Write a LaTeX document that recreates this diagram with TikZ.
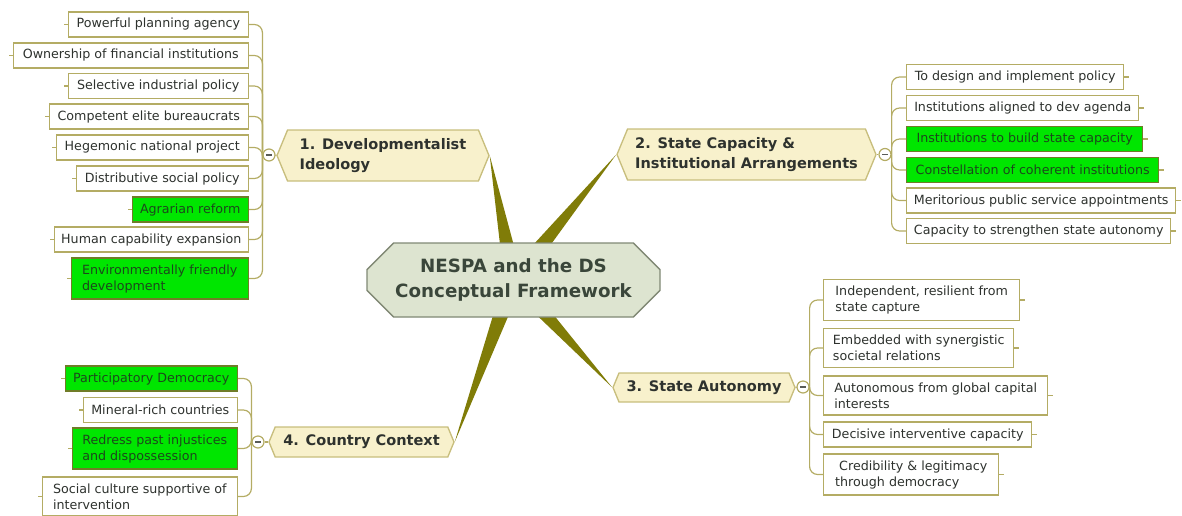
\documentclass[tikz,border=0pt]{standalone}
\usepackage{fontspec}
\setmainfont{DejaVu Sans}
\usetikzlibrary{shapes.misc,shapes.symbols,calc,backgrounds}

\definecolor{olivebar}{RGB}{128,124,8}
\definecolor{twigline}{RGB}{180,172,100}
\definecolor{topicfill}{RGB}{248,241,204}
\definecolor{topicline}{RGB}{200,190,125}
\definecolor{hubfill}{RGB}{221,228,208}
\definecolor{hubline}{RGB}{128,136,116}
\definecolor{hubink}{RGB}{58,70,58}
\definecolor{leafgreen}{RGB}{0,230,0}
\definecolor{leafedge}{RGB}{112,124,40}
\definecolor{darkleaf}{RGB}{28,72,28}
\definecolor{inkgrey}{RGB}{46,50,46}

\tikzset{every picture/.style={line width=0.75pt}}
\tikzset{
  hub/.style={chamfered rectangle, chamfered rectangle xsep=11pt, chamfered rectangle ysep=9pt,
    draw=hubline, fill=hubfill, line width=1pt, text=hubink, align=center,
    font=\fontsize{13.7}{18.75}\bfseries\selectfont, minimum width=219.75pt, minimum height=55.5pt, inner sep=2pt},
  topic/.style={signal, signal to=west and east, signal pointer angle=135,
    draw=topicline, fill=topicfill, line width=1pt, text=inkgrey, align=left,
    font=\fontsize{10.9}{15}\bfseries\selectfont, inner sep=2pt},
  leaf/.style={draw=twigline, fill=white, line width=1.1pt, text=inkgrey, align=left,
    font=\fontsize{9.5}{12}\selectfont, inner xsep=4.5pt, inner ysep=4.8pt, minimum height=19pt},
  ripe/.style={leaf, draw=leafedge, fill=leafgreen, text=darkleaf},
  knob/.style={circle, draw=twigline, fill=white, line width=0.9pt, minimum size=9pt, inner sep=0pt,
    path picture={\draw[line width=1pt, inkgrey!80] ([xshift=-2pt]path picture bounding box.center) -- ([xshift=2pt]path picture bounding box.center);}},
  twig/.style={draw=twigline, line width=0.9pt, rounded corners=6pt},
  tick/.style={draw=twigline, line width=0.9pt},
  spoke/.style={fill=olivebar}
}

\begin{document}
\begin{tikzpicture}[x=0.75pt,y=0.75pt,yscale=-1,xscale=1]
\useasboundingbox (0,0) rectangle (1182,515);

%Shape: Chamfered Rectangle [id:hub]
\node[hub] (ctr) at (513.5,280) {NESPA and the DS\\Conceptual Framework};

%Shape: Hexagon [id:topics]
\node[topic, minimum width=159pt, minimum height=38.25pt] (t1) at (383,155.5) {1. Developmentalist\\Ideology};
\node[topic, minimum width=194.25pt, minimum height=38.25pt] (t2) at (746.5,154.5) {2. State Capacity \&\\Institutional Arrangements};
\node[topic, minimum width=136.5pt, minimum height=21.75pt] (t3) at (704,387.5) {3. State Autonomy};
\node[topic, minimum width=138.75pt, minimum height=22.5pt] (t4) at (361.5,442) {4. Country Context};

%Shape: Circle [id:knobs]
\node[knob] (k1) at (269,155) {};
\node[knob] (k2) at (885,154.5) {};
\node[knob] (k3) at (803,387) {};
\node[knob] (k4) at (258,442) {};

%Tapered spokes
\begin{pgfonlayer}{background}
\fill[spoke] ($(ctr.center)!7pt!90:(t1.east)$) -- (t1.east) -- ($(ctr.center)!7pt!-90:(t1.east)$) -- cycle;
\fill[spoke] ($(ctr.center)!7pt!90:(t2.west)$) -- (t2.west) -- ($(ctr.center)!7pt!-90:(t2.west)$) -- cycle;
\fill[spoke] ($(ctr.center)!7pt!90:(t3.west)$) -- (t3.west) -- ($(ctr.center)!7pt!-90:(t3.west)$) -- cycle;
\fill[spoke] ($(ctr.center)!7pt!90:(t4.east)$) -- (t4.east) -- ($(ctr.center)!7pt!-90:(t4.east)$) -- cycle;
\end{pgfonlayer}

% Text Node
\node[leaf, anchor=east, minimum width=135pt] (p1) at (249,24.5) {Powerful planning agency};
% Text Node
\node[leaf, anchor=east, minimum width=176.25pt] (p2) at (249,55.5) {Ownership of financial institutions};
% Text Node
\node[leaf, anchor=east, minimum width=135pt] (p3) at (249,86) {Selective industrial policy};
% Text Node
\node[leaf, anchor=east, minimum width=149.25pt] (p4) at (249,116.5) {Competent elite bureaucrats};
% Text Node
\node[leaf, anchor=east, minimum width=144pt] (p5) at (249,147.5) {Hegemonic national project};
% Text Node
\node[leaf, anchor=east, minimum width=129pt] (p6) at (249,178.5) {Distributive social policy};
% Text Node
\node[ripe, anchor=east, minimum width=87pt] (p7) at (249,209.5) {Agrarian reform};
% Text Node
\node[leaf, anchor=east, minimum width=145.5pt] (p8) at (249,239.5) {Human capability expansion};
% Text Node
\node[ripe, anchor=east, minimum width=132.75pt] (p9) at (249,278.5) {Environmentally friendly\\development};

% Text Node
\node[leaf, anchor=west, minimum width=162.75pt] (q1) at (906,77) {To design and implement policy};
% Text Node
\node[leaf, anchor=west, minimum width=174pt] (q2) at (906,108) {Institutions aligned to dev agenda};
% Text Node
\node[ripe, anchor=west, minimum width=177pt] (q3) at (906,139) {Institutions to build state capacity};
% Text Node
\node[ripe, anchor=west, minimum width=189pt] (q4) at (906,170) {Constellation of coherent institutions};
% Text Node
\node[leaf, anchor=west, minimum width=201.75pt] (q5) at (906,200.5) {Meritorious public service appointments};
% Text Node
\node[leaf, anchor=west, minimum width=198pt] (q6) at (906,231) {Capacity to strengthen state autonomy};

% Text Node
\node[leaf, anchor=west, minimum width=147pt] (r1) at (823,300) {Independent, resilient from\\state capture};
% Text Node
\node[leaf, anchor=west, minimum width=142.5pt] (r2) at (823,348) {Embedded with synergistic\\societal relations};
% Text Node
\node[leaf, anchor=west, minimum width=168pt] (r3) at (823,395.5) {Autonomous from global capital\\interests};
% Text Node
\node[leaf, anchor=west, minimum width=156pt] (r4) at (823,434.5) {Decisive interventive capacity};
% Text Node
\node[leaf, anchor=west, minimum width=131.25pt] (r5) at (823,474.5) {\ Credibility \& legitimacy\\through democracy};

% Text Node
\node[ripe, anchor=east, minimum width=129pt] (s1) at (238,378.5) {Participatory Democracy};
% Text Node
\node[leaf, anchor=east, minimum width=115.5pt] (s2) at (238,410) {Mineral-rich countries};
% Text Node
\node[ripe, anchor=east, minimum width=123.75pt] (s3) at (238,448.5) {Redress past injustices\\and dispossession};
% Text Node
\node[leaf, anchor=east, minimum width=146.25pt] (s4) at (238,496.5) {Social culture supportive of\\intervention};

%Straight Lines: knob to topic
\draw[tick] (k1.east) -- (t1.west);
\draw[tick] (k2.west) -- (t2.east);
\draw[tick] (k3.west) -- (t3.east);
\draw[tick] (k4.east) -- (t4.west);

%Curve Lines: branch 1
\draw[twig] (k1.west) |- (p1.east);
\draw[twig] (k1.west) |- (p2.east);
\draw[twig] (k1.west) |- (p3.east);
\draw[twig] (k1.west) |- (p4.east);
\draw[twig] (k1.west) |- (p5.east);
\draw[twig] (k1.west) |- (p6.east);
\draw[twig] (k1.west) |- (p7.east);
\draw[twig] (k1.west) |- (p8.east);
\draw[twig] (k1.west) |- (p9.east);
%Curve Lines: branch 2
\draw[twig] (k2.east) |- (q1.west);
\draw[twig] (k2.east) |- (q2.west);
\draw[twig] (k2.east) |- (q3.west);
\draw[twig] (k2.east) |- (q4.west);
\draw[twig] (k2.east) |- (q5.west);
\draw[twig] (k2.east) |- (q6.west);
%Curve Lines: branch 3
\draw[twig] (k3.east) |- (r1.west);
\draw[twig] (k3.east) |- (r2.west);
\draw[twig] (k3.east) |- (r3.west);
\draw[twig] (k3.east) |- (r4.west);
\draw[twig] (k3.east) |- (r5.west);
%Curve Lines: branch 4
\draw[twig] (k4.west) |- (s1.east);
\draw[twig] (k4.west) |- (s2.east);
\draw[twig] (k4.west) |- (s3.east);
\draw[twig] (k4.west) |- (s4.east);

%Straight Lines: outer ticks
\draw[tick] (p1.west) -- ++(-4,0);
\draw[tick] (p2.west) -- ++(-4,0);
\draw[tick] (p3.west) -- ++(-4,0);
\draw[tick] (p4.west) -- ++(-4,0);
\draw[tick] (p5.west) -- ++(-4,0);
\draw[tick] (p6.west) -- ++(-4,0);
\draw[tick] (p7.west) -- ++(-4,0);
\draw[tick] (p8.west) -- ++(-4,0);
\draw[tick] (p9.west) -- ++(-4,0);
\draw[tick] (q1.east) -- ++(5,0);
\draw[tick] (q2.east) -- ++(5,0);
\draw[tick] (q3.east) -- ++(5,0);
\draw[tick] (q4.east) -- ++(5,0);
\draw[tick] (q5.east) -- ++(5,0);
\draw[tick] (q6.east) -- ++(5,0);
\draw[tick] (r1.east) -- ++(5,0);
\draw[tick] (r2.east) -- ++(5,0);
\draw[tick] (r3.east) -- ++(5,0);
\draw[tick] (r4.east) -- ++(5,0);
\draw[tick] (r5.east) -- ++(5,0);
\draw[tick] (s1.west) -- ++(-4,0);
\draw[tick] (s2.west) -- ++(-4,0);
\draw[tick] (s3.west) -- ++(-4,0);
\draw[tick] (s4.west) -- ++(-4,0);

\end{tikzpicture}
\end{document}
